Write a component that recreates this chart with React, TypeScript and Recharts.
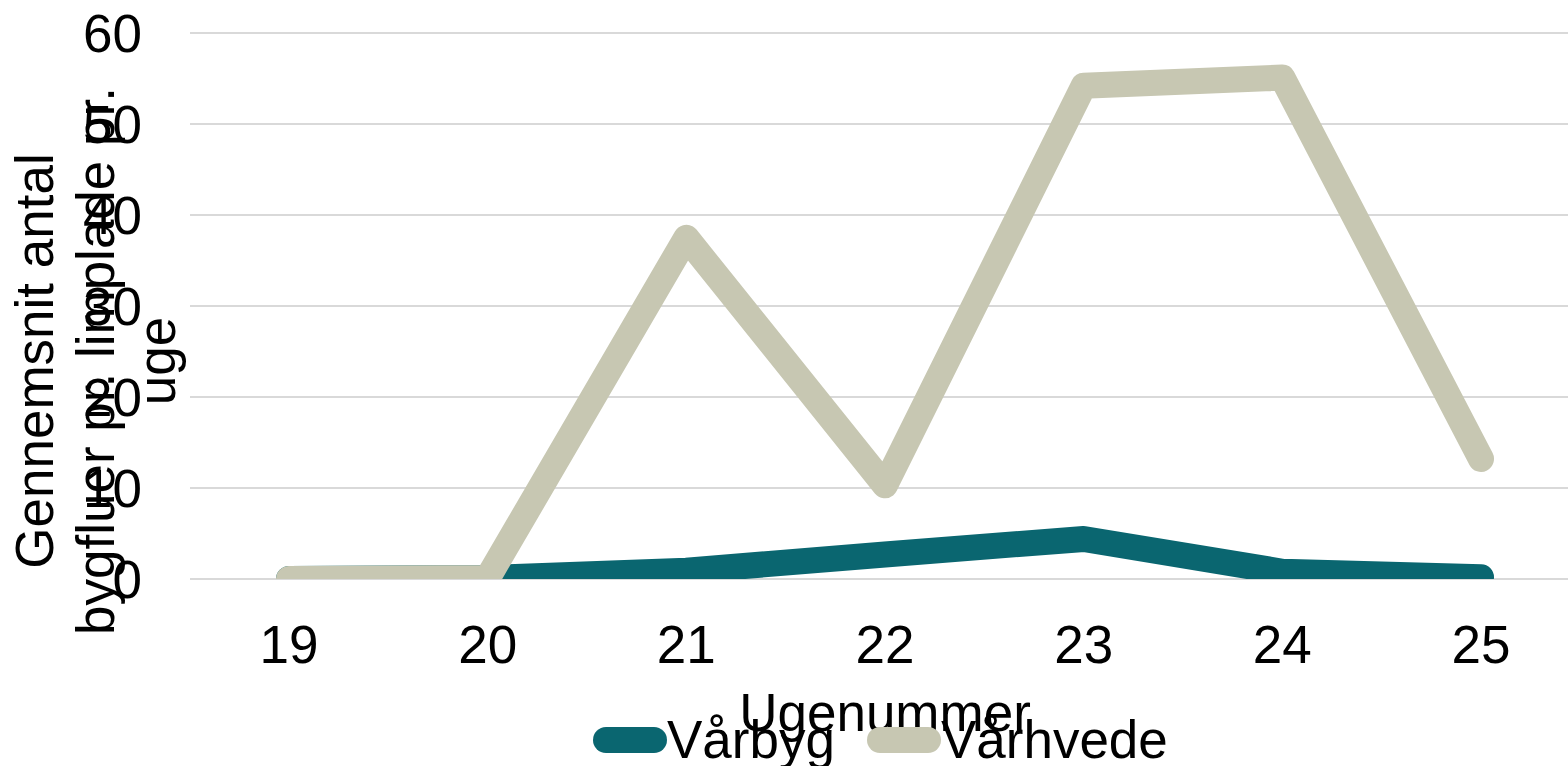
import { LineChart, Line, XAxis, YAxis, CartesianGrid, Legend, Label } from 'recharts'

const weeks = ['19', '20', '21', '22', '23', '24', '25']
const varbyg = [0, 0.1, 0.9, 2.7, 4.4, 0.8, 0.2]
const varhvede = [0, 0.1, 37.5, 10.3, 54.2, 55.1, 13.2]
const yTicks = [0, 10, 20, 30, 40, 50, 60]

const series = [
  { key: 'varbyg', name: 'Vårbyg', color: '#0a6670' },
  { key: 'varhvede', name: 'Vårhvede', color: '#c7c7b2' }
]

const yLabelLines = ['Gennemsnit antal', 'bygfluer pr. limplade pr.', 'uge']

const data = weeks.map((w, i) => ({ week: w, varbyg: varbyg[i], varhvede: varhvede[i] }))

const font = '"Liberation Sans", Arial, sans-serif'

const YLabel = () => (
  <g>
    {yLabelLines.map((line, i) => (
      <text
        key={line}
        x={53 + i * 61}
        y={361}
        transform={`rotate(-90 ${53 + i * 61} 361)`}
        textAnchor="middle"
        fontSize={53}
        fontFamily={font}
        fill="#000"
      >
        {line}
      </text>
    ))}
  </g>
)

const LegendContent = () => (
  <div style={{ display: 'flex', alignItems: 'center', fontFamily: font, fontSize: 53, lineHeight: '53px' }}>
    {series.map((s, i) => (
      <div key={s.key} style={{ display: 'flex', alignItems: 'center', marginLeft: i === 0 ? 0 : 32 }}>
        <svg width={74} height={30}>
          <line x1={13} y1={15} x2={61} y2={15} stroke={s.color} strokeWidth={26} strokeLinecap="round" />
        </svg>
        <span style={{ color: '#000' }}>{s.name}</span>
      </div>
    ))}
  </div>
)

const App = () => {
  return (
    <div style={{ position: 'absolute', left: 0, top: 0, width: 1568, height: 766, overflow: 'hidden', background: '#fff' }}>
      <LineChart width={1580} height={766} data={data} margin={{ top: 33, right: 0, bottom: 0, left: 0 }}>
        <CartesianGrid vertical={false} stroke="#d9d9d9" strokeWidth={2} />
        <XAxis
          dataKey="week"
          axisLine={false}
          tickLine={false}
          tickSize={0}
          tickMargin={46}
          height={187}
          padding={{ left: 99, right: 99 }}
          tick={{ fontSize: 53, fill: '#000', fontFamily: font }}
        >
          <Label value="Ugenummer" position="insideTop" offset={114} fontSize={53} fill="#000" fontFamily={font} />
        </XAxis>
        <YAxis
          domain={[0, 60]}
          ticks={yTicks}
          allowDataOverflow
          width={190}
          axisLine={false}
          tickLine={false}
          tickSize={0}
          tickMargin={48}
          tick={{ fontSize: 53, fill: '#000', fontFamily: font }}
        >
          <Label content={<YLabel />} />
        </YAxis>
        <Legend
          layout="horizontal"
          verticalAlign="middle"
          align="center"
          wrapperStyle={{ top: 713, left: 593, width: 'auto' }}
          content={<LegendContent />}
        />
        {series.map((s) => (
          <Line
            key={s.key}
            dataKey={s.key}
            name={s.name}
            stroke={s.color}
            strokeWidth={26}
            strokeLinecap="round"
            strokeLinejoin="round"
            dot={false}
            activeDot={false}
            isAnimationActive={false}
          />
        ))}
      </LineChart>
    </div>
  )
}

export default App
